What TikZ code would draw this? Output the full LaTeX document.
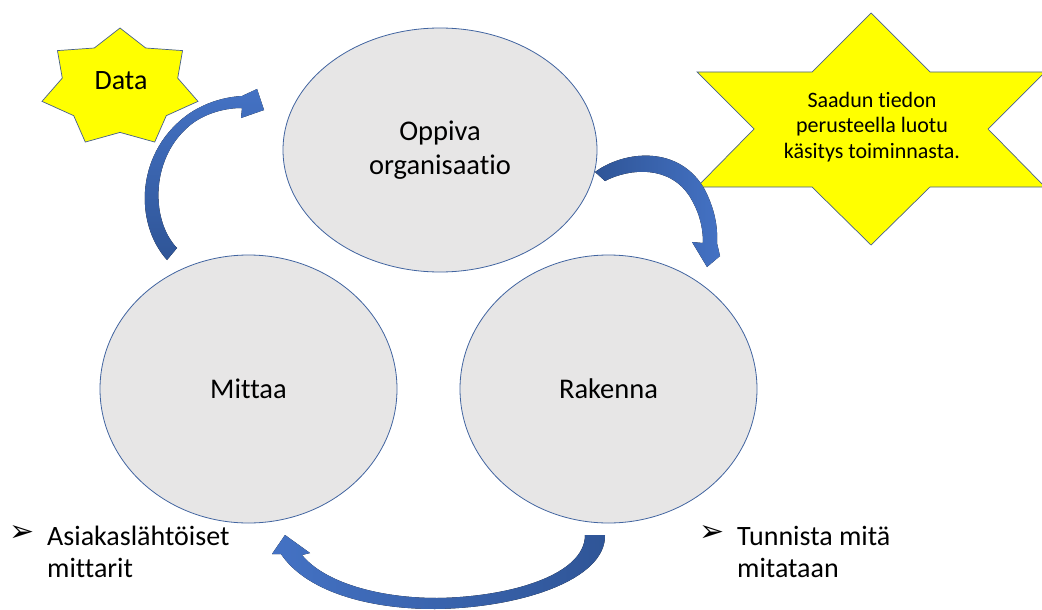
\documentclass[tikz,border=0pt]{standalone}
\usepackage{fontspec}
\setmainfont{Carlito}[Ligatures=NoCommon]
\newfontfamily\symfont{DejaVu Sans}
\usetikzlibrary{shapes.geometric}
\definecolor{ellgray}{RGB}{231,230,230}
\definecolor{edgeblue}{RGB}{65,100,160}
\definecolor{arrdark}{RGB}{47,85,151}
\definecolor{arrlight}{RGB}{68,114,196}
\definecolor{staryellow}{RGB}{255,255,0}
\definecolor{staredge}{RGB}{70,95,140}
\tikzset{
  bubble/.style={ellipse, draw=edgeblue, fill=ellgray, line width=0.8pt, inner sep=0pt, align=center, font=\fontsize{28.5}{34}\selectfont},
  starshape/.style={draw=staredge, fill=staryellow, line width=0.7pt},
  blockarrow/.style={draw=none},
  bigtext/.style={font=\fontsize{28}{32}\selectfont, align=left, inner sep=0pt},
  bullet/.style={font=\symfont\fontsize{30}{30}\selectfont, inner sep=0pt}
}
\begin{document}
\begin{tikzpicture}[x=1pt,y=-1pt]
\useasboundingbox (0,0) rectangle (1042,610);
% ellipses
\node[bubble, minimum width=314pt, minimum height=244pt] (opp) at (440,150) {Oppiva\\organisaatio};
\node[bubble, minimum width=297pt, minimum height=268pt] (mit) at (248.5,389) {Mittaa};
\node[bubble, minimum width=297pt, minimum height=268pt] (rak) at (608.5,389) {Rakenna};
% Data star (7 points)
\draw[starshape] (120,28) \foreach \k in {1,...,13}{ -- ({120+80*(1-0.26*mod(\k,2))*cos(90-\k*360/14)},{88-60*(1-0.26*mod(\k,2))*sin(90-\k*360/14)}) } -- cycle;
\node[font=\fontsize{28}{32}\selectfont, inner sep=0pt] (data) at (121,81) {Data};
% six-point star
\draw[starshape] (871,13) -- (930,72) -- (1045,72) -- (988,129) -- (1045,187) -- (930,187) -- (871,245) -- (812,187) -- (697,187) -- (754,129) -- (697,72) -- (812,72) -- cycle;
\node[font=\fontsize{22}{25.5}\selectfont, align=center, inner sep=0pt] (info) at (872,127) {Saadun tiedon\\perusteella luotu\\käsitys toiminnasta.};
% arrow Mittaa -> Oppiva
\fill[blockarrow, top color=arrlight, bottom color=arrdark]
  (167,260) .. controls (133,222) and (136,150) .. (190,113) .. controls (207,102) and (225,97) .. (242,96)
  -- (257,89) -- (264,110) -- (241,118) -- (242,108)
  .. controls (225,108) and (207,113) .. (193,123) .. controls (150,155) and (150,220) .. (177,248) -- cycle;
% arrow Oppiva -> Rakenna
\fill[blockarrow, left color=arrdark, right color=arrlight]
  (595,172) .. controls (625,150) and (680,145) .. (705,190) .. controls (714,208) and (718,225) .. (717,243)
  -- (720,256) -- (707,267) -- (692,242) -- (703,243)
  .. controls (703,225) and (698,210) .. (690,197) .. controls (670,165) and (630,168) .. (605,181) -- cycle;
% arrow Rakenna -> Mittaa
\fill[blockarrow, left color=arrlight, right color=arrdark]
  (605,535) .. controls (606,580) and (520,608) .. (435,609) .. controls (365,609) and (305,590) .. (281,554)
  -- (272,554) -- (285,535) -- (310,553) -- (302,555)
  .. controls (325,583) and (380,598) .. (437,598) .. controls (510,597) and (585,575) .. (585,535) -- cycle;
% bullets
\node[bullet] (b1) at (22,533) {➢};
\node[bigtext, anchor=base west] (t1) at (47,577) {Asiakaslähtöiset\\mittarit};
\node[bullet] (b2) at (712,533) {➢};
\node[bigtext, anchor=base west] (t2) at (737,577) {Tunnista mitä\\mitataan};
\end{tikzpicture}
\end{document}
